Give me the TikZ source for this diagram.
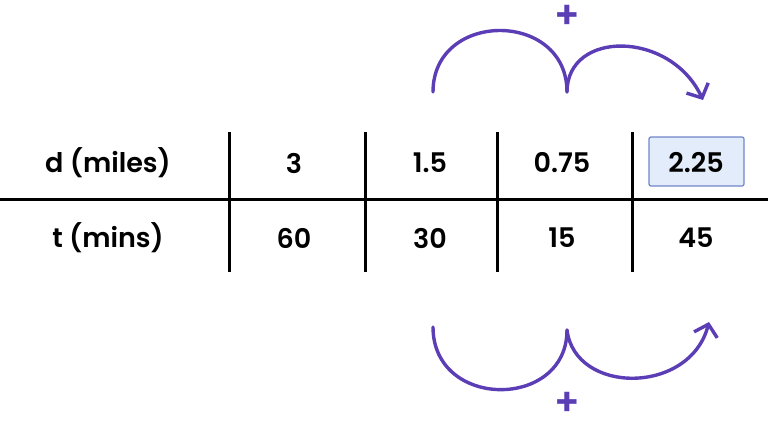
\documentclass[tikz,border=0pt]{standalone}
\usepackage{fontspec}
\setmainfont{Poppins}[BoldFont={Poppins SemiBold}]
\usepackage{tikz}
\usetikzlibrary{arrows.meta}
\definecolor{hop}{HTML}{5B3DB5}
\definecolor{boxfill}{HTML}{E3ECFA}
\definecolor{boxline}{HTML}{6F86C9}
\tikzset{
  cell/.style={font=\fontsize{27}{31}\selectfont\bfseries},
  plus/.style={font=\fontsize{38}{42}\selectfont\bfseries,text=hop},
  rule/.style={line width=3pt},
  hopline/.style={draw=hop,line width=3.4pt,line cap=round},
  hoptip/.style={-{Straight Barb[length=11pt,width=24pt,line width=3.4pt]}}
}
\begin{document}
\begin{tikzpicture}[x=1pt,y=-1pt]
  \useasboundingbox (0,0) rectangle (768,424);

  % table rules
  \draw[rule] (0,199) -- (768,199);
  \foreach \xc in {229,365,497,632}
    \draw[rule] (\xc,132) -- (\xc,272);

  % answer box
  \draw[draw=boxline,fill=boxfill,line width=1.2pt,rounded corners=2pt] (649,137) rectangle (744,186);

  % top row
  \node[cell] (dlab) at (108,163) {d (miles)};
  \node[cell] (d1) at (294,163) {3};
  \node[cell] (d2) at (430,163) {1.5};
  \node[cell] (d3) at (562,163) {0.75};
  \node[cell] (d4) at (696,163) {2.25};

  % bottom row
  \node[cell] (tlab) at (108,238) {t (mins)};
  \node[cell] (t1) at (294,238) {60};
  \node[cell] (t2) at (430,238) {30};
  \node[cell] (t3) at (562,238) {15};
  \node[cell] (t4) at (696,238) {45};

  % hops above
  \coordinate (ta) at (433,92);
  \coordinate (tb) at (567,92);
  \coordinate (tc) at (703,100);
  \draw[hopline] (ta) .. controls (433,10) and (567,10) .. (tb);
  \draw[hopline,hoptip] (tb) .. controls (567,30) and (670,30) .. (tc);
  \node[plus] (tplus) at (567,17) {+};

  % hops below
  \coordinate (ba) at (433,327);
  \coordinate (bb) at (567,330);
  \coordinate (bc) at (709,322);
  \draw[hopline] (ba) .. controls (433,410) and (567,410) .. (bb);
  \draw[hopline,hoptip] (bb) .. controls (575,395) and (690,395) .. (bc);
  \node[plus] (bplus) at (567,404) {+};
\end{tikzpicture}
\end{document}
